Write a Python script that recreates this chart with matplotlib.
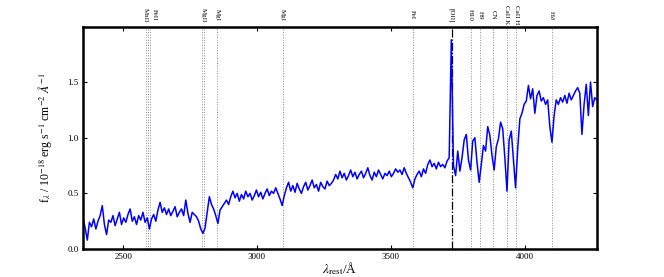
import matplotlib
matplotlib.use("Agg")
import matplotlib.pyplot as plt
import numpy as np

plt.rcParams['font.family'] = ['Liberation Serif', 'DejaVu Serif']
plt.rcParams['mathtext.fontset'] = 'stix'

# rest-frame spectrum, sampled every 8 A from 2350 A
wave_start = 2350
wave_step = 8
flux = [
    # 2350 - 2446
    0.28, 0.19, 0.08, 0.24, 0.20, 0.27, 0.18, 0.25, 0.30, 0.39, 0.22, 0.13, 0.26,
    # 2454 - 2550
    0.24, 0.30, 0.21, 0.27, 0.33, 0.22, 0.28, 0.24, 0.31, 0.36, 0.25, 0.29, 0.22,
    # 2558 - 2654
    0.30, 0.26, 0.33, 0.24, 0.28, 0.18, 0.27, 0.31, 0.25, 0.35, 0.42, 0.33, 0.37,
    # 2662 - 2758
    0.31, 0.36, 0.30, 0.34, 0.38, 0.29, 0.33, 0.36, 0.30, 0.44, 0.32, 0.24, 0.33,
    # 2766 - 2862
    0.31, 0.29, 0.25, 0.18, 0.14, 0.19, 0.33, 0.47, 0.40, 0.36, 0.30, 0.23, 0.35,
    # 2870 - 2966
    0.38, 0.41, 0.44, 0.40, 0.47, 0.52, 0.46, 0.50, 0.43, 0.49, 0.45, 0.52, 0.47,
    # 2974 - 3070
    0.50, 0.44, 0.48, 0.53, 0.47, 0.51, 0.45, 0.50, 0.54, 0.48, 0.52, 0.50, 0.55,
    # 3078 - 3174
    0.50, 0.45, 0.39, 0.48, 0.55, 0.60, 0.52, 0.57, 0.51, 0.59, 0.54, 0.50, 0.56,
    # 3182 - 3278
    0.60, 0.53, 0.57, 0.62, 0.55, 0.58, 0.52, 0.60, 0.56, 0.54, 0.61, 0.57, 0.59,
    # 3286 - 3382
    0.62, 0.67, 0.63, 0.70, 0.64, 0.68, 0.62, 0.66, 0.71, 0.65, 0.69, 0.63, 0.67,
    # 3390 - 3486
    0.70, 0.64, 0.68, 0.73, 0.66, 0.62, 0.69, 0.65, 0.71, 0.67, 0.63, 0.68, 0.66,
    # 3494 - 3590
    0.70, 0.65, 0.68, 0.72, 0.69, 0.71, 0.67, 0.73, 0.68, 0.64, 0.60, 0.55, 0.63,
    # 3598 - 3718
    0.67, 0.70, 0.65, 0.72, 0.68, 0.76, 0.80, 0.74, 0.77, 0.72, 0.78, 0.74, 0.76, 0.73, 0.79, 0.82,
    # 3726 [OII]
    1.88,
    # 3734 - 4270
    0.75, 0.66, 0.88, 0.70, 0.82, 0.98, 1.03, 0.80, 0.71, 0.97,
    1.00, 0.78, 0.60, 0.76, 0.93, 0.88, 1.10, 1.02, 0.84, 0.71,
    0.92, 0.99, 1.14, 1.08, 0.82, 0.52, 0.98, 1.06, 0.80, 0.55,
    0.90, 1.17, 1.22, 1.30, 1.33, 1.47, 1.35, 1.44, 1.22, 1.38,
    1.42, 1.33, 1.36, 1.30, 1.34, 1.10, 0.96, 1.20, 1.34, 1.30,
    1.36, 1.32, 1.38, 1.31, 1.40, 1.34, 1.38, 1.42, 1.45, 1.40,
    1.03, 1.30, 1.48, 1.20, 1.50, 1.28, 1.36, 1.34,
]
wave = wave_start + wave_step * np.arange(len(flux))

# absorption / emission features
line_waves = [2586, 2594, 2600, 2796, 2803, 2852, 3096, 3581, 3798, 3835, 3883, 3934, 3969, 4102]
oii_wave = 3727
label_names = ['MnII', 'FeII', 'MgII', 'MgI', 'MgI', 'FeI', '[OII]', 'H10', 'H9', 'CN',
               'CaII K', 'CaII H', r'H$\delta$']
label_waves = [2583, 2615, 2800, 2852, 3096, 3581, 3727, 3798, 3835, 3883, 3934, 3969, 4102]

fig = plt.figure(figsize=(6.64, 2.77), dpi=100)
ax = fig.add_axes([0.125, 0.101, 0.774, 0.8015])

for lw_ in line_waves:
    ax.axvline(lw_, color='0.55', ls=':', lw=0.7, zorder=1)
ax.axvline(oii_wave, color='k', ls='-.', lw=0.9, zorder=1)

ax.plot(wave, flux, color='b', lw=1.1, zorder=2)

for name, w in zip(label_names, label_waves):
    ax.text(w, 1.055, name, transform=ax.get_xaxis_transform(), rotation=270,
            ha='center', va='center', fontsize=5)

ax.set_xlim(2350, 4270)
ax.set_ylim(0, 1.995)
ax.set_xticks([2500, 3000, 3500, 4000])
ax.set_yticks([0.0, 0.5, 1.0, 1.5])
ax.tick_params(direction='in', top=True, right=True, length=3, width=0.8, labelsize=6.5, pad=3)
for sp in ax.spines.values():
    sp.set_linewidth(1.8)

ax.set_xlabel(r'$\lambda_{\rm rest}$/Å', fontsize=9.5, labelpad=-1)
ax.set_ylabel(r'f$_\lambda$ / 10$^{-18}$ erg s$^{-1}$ cm$^{-2}$ $\AA^{-1}$', fontsize=8.5, labelpad=10)

fig.savefig('out.png', dpi=100)
